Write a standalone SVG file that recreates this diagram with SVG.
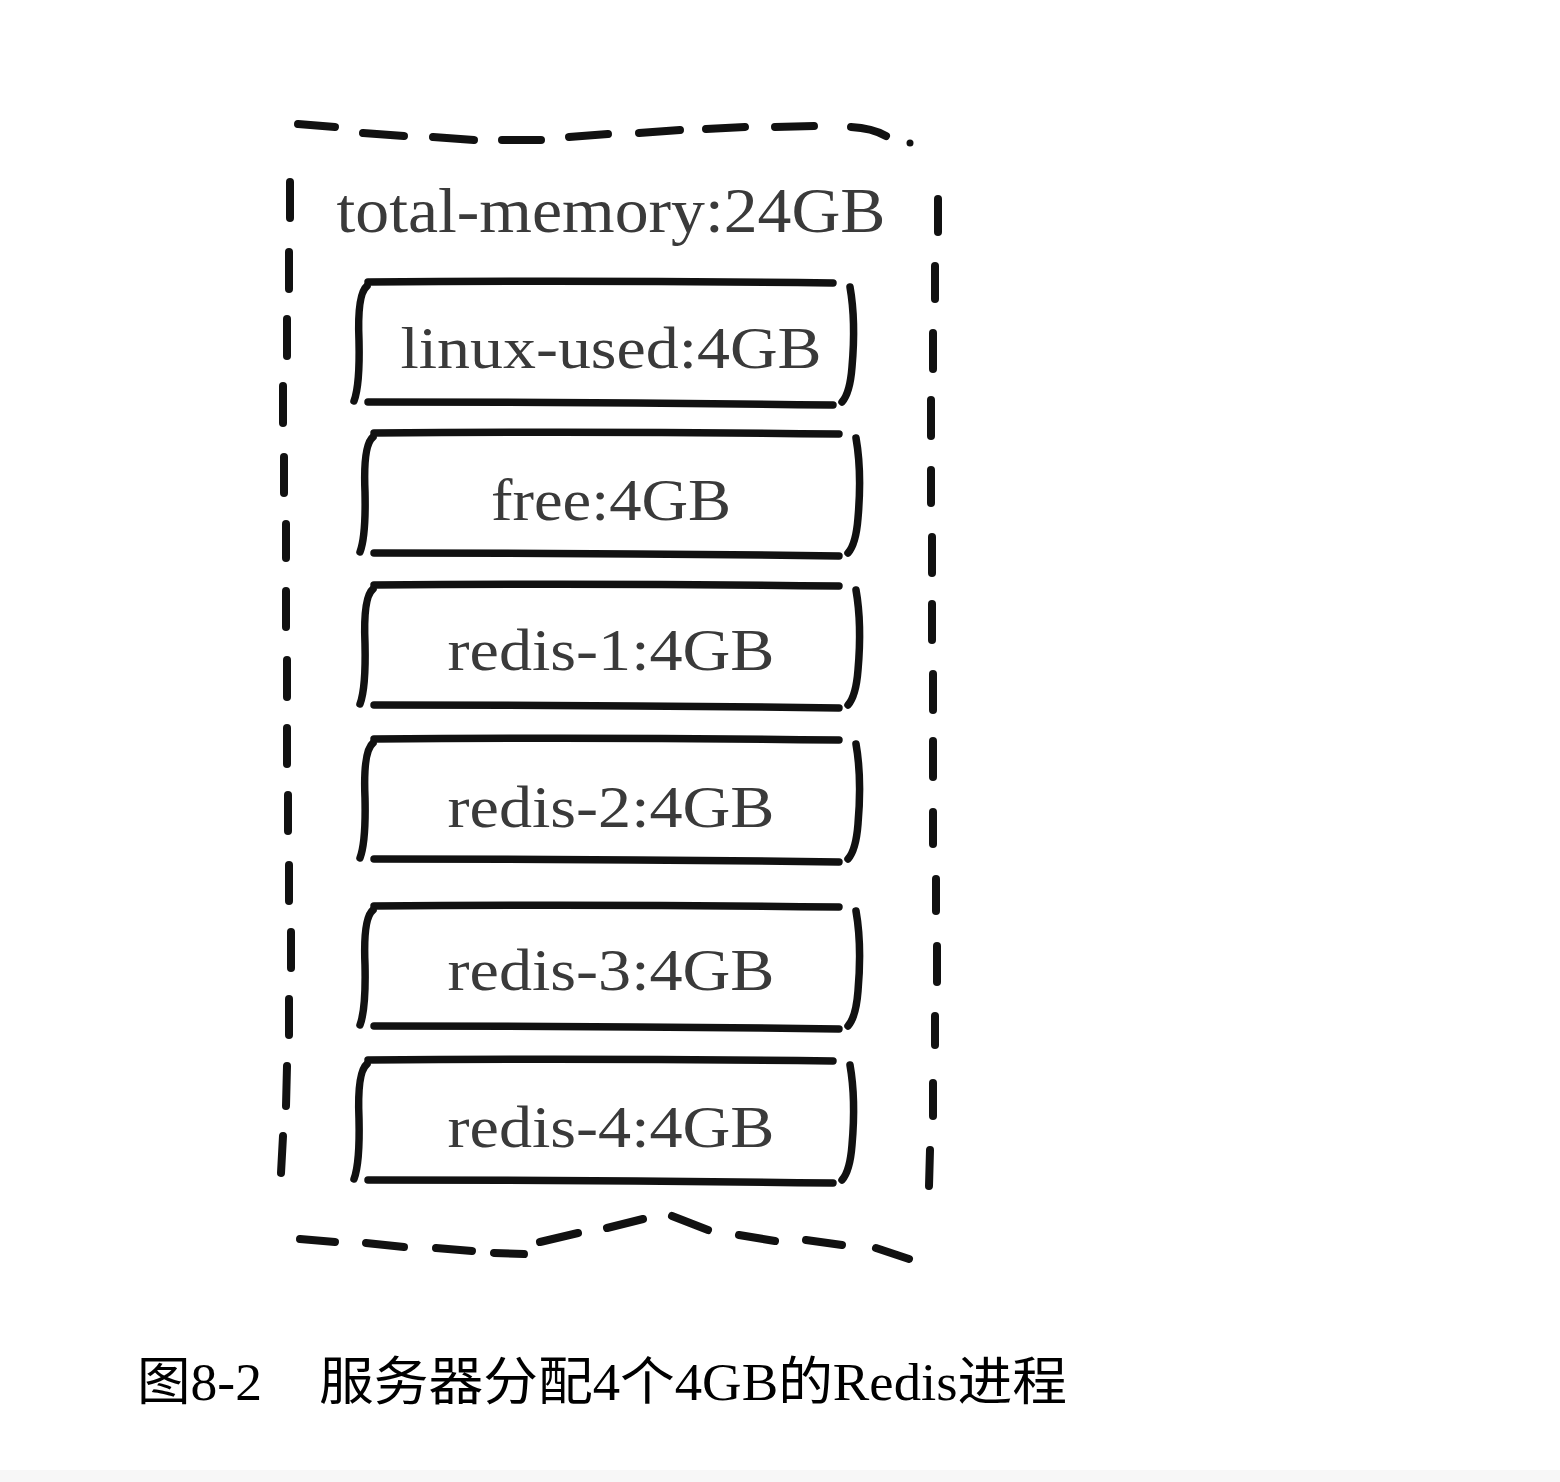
<svg xmlns="http://www.w3.org/2000/svg" width="1560" height="1482" viewBox="0 0 1560 1482">
<style>
.dash{stroke:#111;stroke-width:8;stroke-linecap:round;fill:none}
.edge{stroke:#111;stroke-width:7.5;stroke-linecap:round;stroke-linejoin:round;fill:none}
.lbl{font-family:"Liberation Serif","DejaVu Serif",serif;fill:#3a3a3a;text-anchor:middle}
.cap{font-family:"Liberation Serif","Noto Sans CJK SC",serif;fill:#000;font-size:52px}
</style>
<defs>
<g id="boxshape">
<path class="edge" d="M0,1 Q232,-1 465,2"/>
<path class="edge" d="M0,121 Q232,121 465,124"/>
<path class="edge" d="M-1,5 Q-11,13 -9,60 Q-8,104 -14,120"/>
<path class="edge" d="M482,6 Q488,40 484,86 Q482,112 474,121"/>
</g>
</defs>
<rect x="0" y="0" width="1560" height="1482" fill="#fff"/>
<rect x="0" y="1470" width="1560" height="12" fill="#f7f7f7"/>
<g id="total-memory">
<g id="frame-top">
<line class="dash" x1="298" y1="124" x2="335" y2="127"/>
<line class="dash" x1="363" y1="133" x2="404" y2="136"/>
<line class="dash" x1="433" y1="137" x2="474" y2="140"/>
<line class="dash" x1="502" y1="140" x2="541" y2="140"/>
<line class="dash" x1="569" y1="137" x2="608" y2="134"/>
<line class="dash" x1="639" y1="133" x2="680" y2="130"/>
<line class="dash" x1="706" y1="129" x2="745" y2="127"/>
<line class="dash" x1="775" y1="127" x2="814" y2="126"/>
<path class="dash" d="M851,127 Q872,128 886,136"/>
<circle cx="910" cy="143" r="3.5" fill="#111"/>
</g>
<g id="frame-left">
<line class="dash" x1="290" y1="182" x2="290" y2="218"/>
<line class="dash" x1="289" y1="252" x2="289" y2="289"/>
<line class="dash" x1="287" y1="319" x2="287" y2="356"/>
<line class="dash" x1="283" y1="386" x2="283" y2="423"/>
<line class="dash" x1="284" y1="457" x2="284" y2="493"/>
<line class="dash" x1="286" y1="524" x2="286" y2="558"/>
<line class="dash" x1="286" y1="591" x2="286" y2="627"/>
<line class="dash" x1="287" y1="660" x2="287" y2="697"/>
<line class="dash" x1="287" y1="728" x2="287" y2="764"/>
<line class="dash" x1="288" y1="795" x2="288" y2="831"/>
<line class="dash" x1="289" y1="865" x2="289" y2="901"/>
<line class="dash" x1="291" y1="932" x2="291" y2="968"/>
<line class="dash" x1="289" y1="999" x2="289" y2="1035"/>
<line class="dash" x1="287" y1="1066" x2="286" y2="1106"/>
<line class="dash" x1="283" y1="1136" x2="281" y2="1173"/>
</g>
<g id="frame-right">
<line class="dash" x1="938" y1="199" x2="938" y2="232"/>
<line class="dash" x1="935" y1="266" x2="935" y2="299"/>
<line class="dash" x1="933" y1="333" x2="933" y2="369"/>
<line class="dash" x1="931" y1="400" x2="931" y2="436"/>
<line class="dash" x1="931" y1="470" x2="931" y2="503"/>
<line class="dash" x1="932" y1="537" x2="932" y2="573"/>
<line class="dash" x1="932" y1="604" x2="932" y2="640"/>
<line class="dash" x1="933" y1="674" x2="933" y2="710"/>
<line class="dash" x1="933" y1="741" x2="933" y2="777"/>
<line class="dash" x1="933" y1="812" x2="933" y2="844"/>
<line class="dash" x1="936" y1="879" x2="936" y2="911"/>
<line class="dash" x1="937" y1="946" x2="937" y2="982"/>
<line class="dash" x1="935" y1="1016" x2="935" y2="1045"/>
<line class="dash" x1="933" y1="1083" x2="933" y2="1116"/>
<line class="dash" x1="930" y1="1150" x2="929" y2="1186"/>
</g>
<g id="frame-bottom">
<line class="dash" x1="300" y1="1239" x2="335" y2="1242"/>
<line class="dash" x1="366" y1="1243" x2="404" y2="1247"/>
<line class="dash" x1="436" y1="1248" x2="472" y2="1251"/>
<line class="dash" x1="494" y1="1253" x2="524" y2="1254"/>
<line class="dash" x1="540" y1="1242" x2="578" y2="1233"/>
<line class="dash" x1="607" y1="1228" x2="643" y2="1219"/>
<line class="dash" x1="672" y1="1216" x2="708" y2="1230"/>
<line class="dash" x1="739" y1="1235" x2="775" y2="1241"/>
<line class="dash" x1="806" y1="1240" x2="842" y2="1245"/>
<line class="dash" x1="876" y1="1248" x2="909" y2="1259"/>
</g>
<text class="lbl" x="611" y="232" font-size="64" textLength="549" lengthAdjust="spacingAndGlyphs">total-memory:24GB</text>
</g>
<g id="linux-used">
<use href="#boxshape" transform="translate(368,281)"/>
<text class="lbl" x="611" y="368" font-size="60" textLength="421" lengthAdjust="spacingAndGlyphs">linux-used:4GB</text>
</g>
<g id="free">
<use href="#boxshape" transform="translate(374,432)"/>
<text class="lbl" x="611" y="520" font-size="60" textLength="240" lengthAdjust="spacingAndGlyphs">free:4GB</text>
</g>
<g id="redis-1">
<use href="#boxshape" transform="translate(374,584)"/>
<text class="lbl" x="611" y="670" font-size="60" textLength="327" lengthAdjust="spacingAndGlyphs">redis-1:4GB</text>
</g>
<g id="redis-2">
<use href="#boxshape" transform="translate(374,738)"/>
<text class="lbl" x="611" y="827" font-size="60" textLength="327" lengthAdjust="spacingAndGlyphs">redis-2:4GB</text>
</g>
<g id="redis-3">
<use href="#boxshape" transform="translate(374,905)"/>
<text class="lbl" x="611" y="990" font-size="60" textLength="327" lengthAdjust="spacingAndGlyphs">redis-3:4GB</text>
</g>
<g id="redis-4">
<use href="#boxshape" transform="translate(368,1059)"/>
<text class="lbl" x="611" y="1147" font-size="60" textLength="327" lengthAdjust="spacingAndGlyphs">redis-4:4GB</text>
</g>
<g id="connectors"/>
<g id="caption">
<text class="cap" x="137" y="1400" textLength="125" lengthAdjust="spacingAndGlyphs">图8-2</text>
<text class="cap" x="319" y="1400" textLength="748" lengthAdjust="spacingAndGlyphs">服务器分配4个4GB的Redis进程</text>
</g>
</svg>
